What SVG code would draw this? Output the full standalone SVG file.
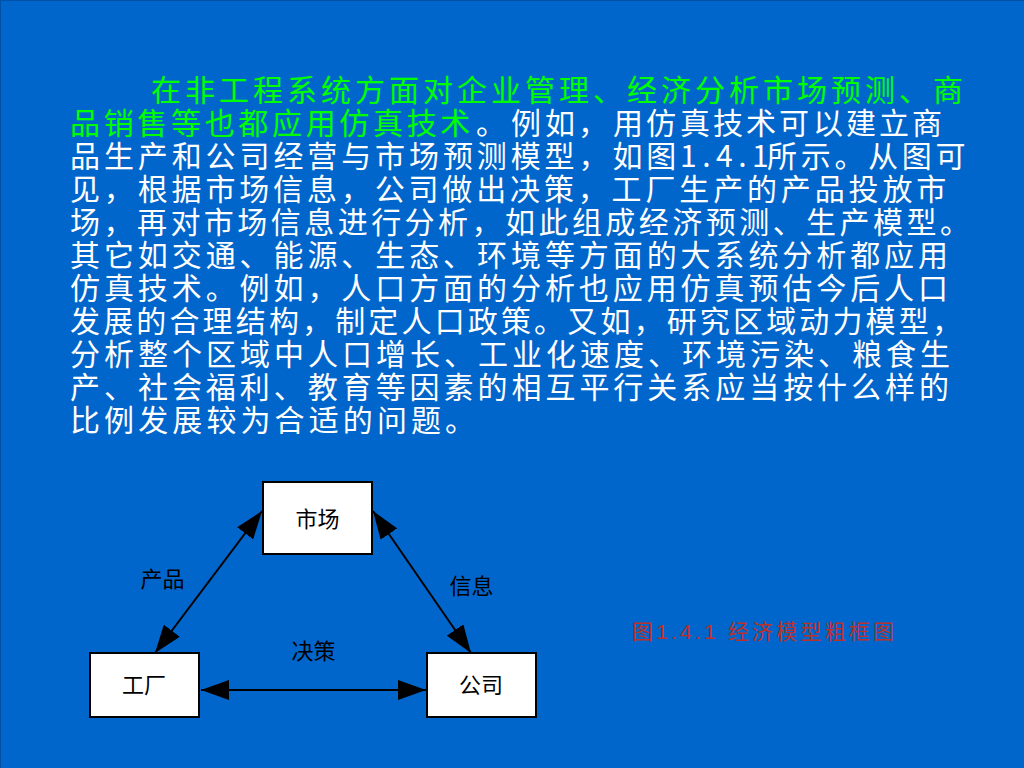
<svg xmlns="http://www.w3.org/2000/svg" width="1024" height="768" viewBox="0 0 1024 768">
<defs>
<style>
.body{font-family:"Noto Sans CJK SC","Noto Sans CJK TC",sans-serif;font-size:30px;fill:#FFFFFF;}
.green{fill:#00FF00;}
.node rect{fill:#FFFFFF;stroke:#000000;stroke-width:2;}
.lbl{font-family:"Noto Sans CJK SC",sans-serif;font-size:22px;fill:#000000;text-anchor:middle;}
.conn line{stroke:#000000;stroke-width:2;marker-start:url(#arr);marker-end:url(#arr);}
.cap{font-family:"Liberation Sans","Noto Sans CJK SC",sans-serif;font-size:21px;fill:#B8312A;}
</style>
<marker id="arr" markerUnits="userSpaceOnUse" markerWidth="28" markerHeight="20" refX="28" refY="10" orient="auto-start-reverse" viewBox="0 0 28 20">
<path d="M0,0 L28,10 L0,20 Z" fill="#000000"/>
</marker>
</defs>
<rect x="0" y="0" width="1024" height="768" fill="#0066CC"/>
<path d="M0.5,768 V0.5 H1024" fill="none" stroke="#0050A8" stroke-width="1"/>

<g id="paragraph">
<text class="body" y="101"><tspan class="green" x="151" style="letter-spacing:4px">在非工程系统方面对企业管理、经济分析市场预测、商</tspan></text>
<text class="body" y="134"><tspan class="green" x="70" style="letter-spacing:3.67px">品销售等也都应用仿真技术</tspan><tspan x="476 511 545 578 613 646 680 713 746 779 813 846 879 912">。例如，用仿真技术可以建立商</tspan></text>
<text class="body" y="167"><tspan x="70" style="letter-spacing:3.9px">品生产和公司经营与市场预测模型，如图</tspan><tspan x="680" style="letter-spacing:5.5px">1.4.1</tspan><tspan x="767" style="letter-spacing:3.7px">所示。从图可</tspan></text>
<text class="body" y="200"><tspan x="70" style="letter-spacing:3.85px">见，根据市场信息，公司做出决策，工厂生产的产品投放市</tspan></text>
<text class="body" y="233"><tspan x="70" style="letter-spacing:3.46px">场，再对市场信息进行分析，如此组成经济预测、生产模型。</tspan></text>
<text class="body" y="266"><tspan x="70" style="letter-spacing:3.92px">其它如交通、能源、生态、环境等方面的大系统分析都应用</tspan></text>
<text class="body" y="299"><tspan x="70" style="letter-spacing:3.92px">仿真技术。例如，人口方面的分析也应用仿真预估今后人口</tspan></text>
<text class="body" y="332"><tspan x="70" style="letter-spacing:3.15px">发展的合理结构，制定人口政策。又如，研究区域动力模型，</tspan></text>
<text class="body" y="365"><tspan x="70" style="letter-spacing:4px">分析整个区域中人口增长、工业化速度、环境污染、粮食生</tspan></text>
<text class="body" y="398"><tspan x="70" style="letter-spacing:3.96px">产、社会福利、教育等因素的相互平行关系应当按什么样的</tspan></text>
<text class="body" y="431"><tspan x="70" style="letter-spacing:4.1px">比例发展较为合适的问题。</tspan></text>
</g>

<g id="connectors" class="conn">
<line x1="155" y1="653" x2="262" y2="511"/>
<line x1="373" y1="511" x2="471" y2="653"/>
<line x1="201" y1="690" x2="426" y2="690"/>
</g>

<g id="node-market" class="node">
<rect x="263" y="482" width="109" height="72"/>
<text class="lbl" x="317.5" y="527">市场</text>
</g>
<g id="node-factory" class="node">
<rect x="90" y="653" width="109" height="64"/>
<text class="lbl" x="144" y="693">工厂</text>
</g>
<g id="node-company" class="node">
<rect x="427" y="653" width="109" height="64"/>
<text class="lbl" x="481" y="693">公司</text>
</g>

<g id="edge-labels">
<text class="lbl" x="162.5" y="587">产品</text>
<text class="lbl" x="471.5" y="594">信息</text>
<text class="lbl" x="313.5" y="659">决策</text>
</g>

<text id="caption" class="cap" x="632" y="639" textLength="262" lengthAdjust="spacing">图1.4.1 经济模型粗框图</text>
</svg>
